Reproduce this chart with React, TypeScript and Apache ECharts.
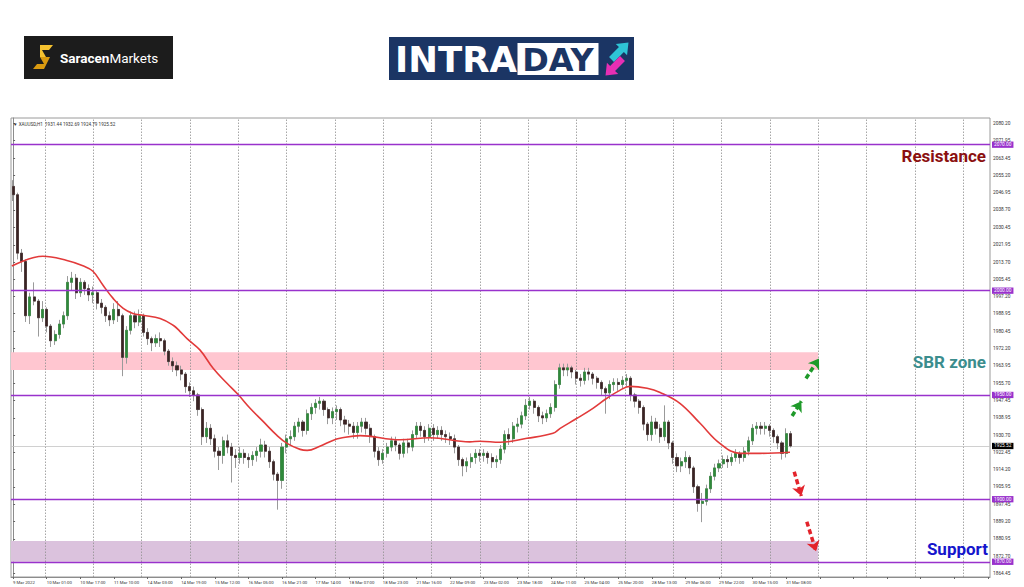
import React, { useEffect, useRef } from "react";
import * as echarts from "echarts";

// ---------- data ----------
const timeLabels = [
  "9 Mar 2022", "10 Mar 01:00", "10 Mar 17:00", "11 Mar 10:00", "14 Mar 03:00", "14 Mar 19:00",
  "15 Mar 12:00", "16 Mar 05:00", "16 Mar 21:00", "17 Mar 14:00", "18 Mar 07:00", "18 Mar 23:00",
  "21 Mar 16:00", "22 Mar 09:00", "23 Mar 02:00", "23 Mar 18:00", "24 Mar 11:00", "25 Mar 04:00",
  "25 Mar 20:00", "28 Mar 13:00", "29 Mar 06:00", "29 Mar 22:00", "30 Mar 15:00", "31 Mar 08:00",
];

const yTicks = [
  2080.2, 2071.95, 2063.45, 2055.2, 2046.95, 2038.7, 2030.45, 2021.95, 2013.7, 2005.45, 1997.2,
  1988.95, 1980.45, 1972.2, 1963.95, 1955.7, 1947.45, 1938.95, 1930.7, 1922.45, 1914.2, 1905.95,
  1897.45, 1889.2, 1880.95, 1872.7, 1864.45,
];

// [open, close, low, high]
const candles: number[][] = [
  [2050, 2046, 2043, 2053], [2046, 2018, 2015, 2047], [2018, 2014, 2009, 2020], [2014, 1988, 1985, 2015],
  [1988, 1997, 1984, 1999], [1997, 1995, 1993, 2004], [1995, 1987, 1978, 1996], [1987, 1991, 1985, 1995],
  [1991, 1983, 1980, 1992], [1983, 1976, 1973, 1984], [1976, 1979, 1974, 1981], [1979, 1984, 1977, 1986],
  [1984, 1988, 1982, 1990], [1988, 2004, 1986, 2007], [2004, 2006, 2000, 2009], [2006, 1999, 1996, 2008],
  [1999, 2004, 1997, 2006], [2004, 2001, 1998, 2005], [2001, 1998, 1995, 2003], [1998, 1999, 1994, 2002],
  [1999, 1994, 1991, 2000], [1994, 1992, 1989, 1996], [1992, 1988, 1985, 1993], [1988, 1986, 1983, 1990],
  [1986, 1991, 1984, 1994], [1991, 1988, 1985, 1995], [1988, 1968, 1959, 1989], [1968, 1981, 1965, 1983],
  [1981, 1988, 1979, 1990], [1988, 1985, 1982, 1990], [1985, 1988, 1983, 1991], [1988, 1980, 1978, 1989],
  [1980, 1977, 1974, 1982], [1977, 1975, 1971, 1978], [1975, 1977, 1973, 1979], [1977, 1976, 1973, 1980],
  [1976, 1971, 1969, 1977], [1971, 1966, 1964, 1972], [1966, 1964, 1961, 1968], [1964, 1962, 1959, 1966],
  [1962, 1960, 1957, 1964], [1960, 1954, 1951, 1961], [1954, 1952, 1949, 1956], [1952, 1950, 1947, 1954],
  [1950, 1943, 1940, 1951], [1943, 1930, 1926, 1944], [1930, 1934, 1927, 1937], [1934, 1929, 1926, 1936],
  [1929, 1923, 1920, 1931], [1923, 1921, 1914, 1925], [1921, 1928, 1917, 1930], [1928, 1925, 1922, 1931],
  [1925, 1921, 1908, 1927], [1921, 1920, 1915, 1924], [1920, 1922, 1917, 1925], [1922, 1920, 1917, 1924],
  [1920, 1919, 1915, 1922], [1919, 1921, 1916, 1923], [1921, 1923, 1918, 1925], [1923, 1926, 1920, 1929],
  [1926, 1923, 1920, 1928], [1923, 1918, 1915, 1925], [1918, 1912, 1909, 1919], [1912, 1909, 1895, 1913],
  [1909, 1925, 1905, 1927], [1925, 1929, 1922, 1931], [1929, 1930, 1926, 1933], [1930, 1935, 1928, 1937],
  [1935, 1937, 1932, 1939], [1937, 1933, 1930, 1938], [1933, 1941, 1931, 1943], [1941, 1944, 1938, 1946],
  [1944, 1946, 1941, 1948], [1946, 1947, 1943, 1949], [1947, 1943, 1940, 1948], [1943, 1939, 1936, 1944],
  [1939, 1942, 1936, 1944], [1942, 1943, 1938, 1945], [1943, 1938, 1935, 1944], [1938, 1936, 1932, 1940],
  [1936, 1935, 1931, 1938], [1935, 1932, 1929, 1937], [1932, 1935, 1929, 1937], [1935, 1937, 1932, 1939],
  [1937, 1934, 1931, 1939], [1934, 1930, 1927, 1936], [1930, 1923, 1920, 1931], [1923, 1919, 1916, 1925],
  [1919, 1922, 1917, 1924], [1922, 1925, 1920, 1927], [1925, 1928, 1923, 1930], [1928, 1926, 1923, 1930],
  [1926, 1922, 1919, 1927], [1922, 1927, 1920, 1929], [1927, 1925, 1922, 1929], [1925, 1931, 1923, 1933],
  [1931, 1935, 1929, 1937], [1935, 1933, 1930, 1937], [1933, 1930, 1927, 1935], [1930, 1934, 1928, 1936],
  [1934, 1931, 1928, 1936], [1931, 1933, 1929, 1935], [1933, 1931, 1928, 1935], [1931, 1930, 1927, 1933],
  [1930, 1929, 1926, 1932], [1929, 1925, 1922, 1931], [1925, 1919, 1916, 1926], [1919, 1916, 1911, 1920],
  [1916, 1918, 1913, 1920], [1918, 1920, 1915, 1922], [1920, 1922, 1917, 1924], [1922, 1921, 1918, 1924],
  [1921, 1922, 1918, 1924], [1922, 1920, 1917, 1923], [1920, 1918, 1915, 1922], [1918, 1919, 1915, 1921],
  [1919, 1924, 1917, 1926], [1924, 1931, 1922, 1933], [1931, 1929, 1926, 1934], [1929, 1935, 1927, 1937],
  [1935, 1936, 1932, 1939], [1936, 1940, 1934, 1942], [1940, 1945, 1938, 1948], [1945, 1947, 1943, 1949],
  [1947, 1944, 1941, 1948], [1944, 1940, 1937, 1945], [1940, 1939, 1936, 1942], [1939, 1941, 1937, 1943],
  [1941, 1944, 1939, 1946], [1944, 1955, 1942, 1957], [1955, 1963, 1953, 1965], [1963, 1962, 1959, 1965],
  [1962, 1963, 1959, 1965], [1963, 1961, 1958, 1964], [1961, 1958, 1955, 1962], [1958, 1957, 1954, 1960],
  [1957, 1961, 1955, 1963], [1961, 1960, 1957, 1963], [1960, 1958, 1955, 1961], [1958, 1956, 1953, 1959],
  [1956, 1953, 1950, 1957], [1953, 1951, 1941, 1954], [1951, 1955, 1948, 1957], [1955, 1956, 1952, 1958],
  [1956, 1955, 1952, 1958], [1955, 1957, 1953, 1959], [1957, 1958, 1954, 1960], [1958, 1950, 1947, 1959],
  [1950, 1947, 1944, 1951], [1947, 1944, 1941, 1948], [1944, 1936, 1933, 1945], [1936, 1931, 1928, 1937],
  [1931, 1937, 1928, 1940], [1937, 1934, 1931, 1939], [1934, 1930, 1927, 1936], [1930, 1937, 1928, 1945],
  [1937, 1927, 1924, 1938], [1927, 1920, 1917, 1928], [1920, 1916, 1913, 1922], [1916, 1918, 1913, 1920],
  [1918, 1920, 1915, 1923], [1920, 1915, 1912, 1921], [1915, 1906, 1903, 1916], [1906, 1898, 1894, 1907],
  [1898, 1899, 1889, 1903], [1899, 1905, 1897, 1907], [1905, 1911, 1903, 1913], [1911, 1915, 1909, 1917],
  [1915, 1917, 1913, 1919], [1917, 1919, 1915, 1921], [1919, 1918, 1915, 1921], [1918, 1920, 1916, 1922],
  [1920, 1922, 1918, 1924], [1922, 1920, 1917, 1923], [1920, 1923, 1918, 1925], [1923, 1928, 1921, 1930],
  [1928, 1934, 1926, 1936], [1934, 1935, 1931, 1937], [1935, 1934, 1931, 1937], [1934, 1935, 1931, 1937],
  [1935, 1933, 1930, 1936], [1933, 1930, 1927, 1934], [1930, 1927, 1924, 1931], [1927, 1922, 1919, 1928],
  [1922, 1931.44, 1920, 1934], [1931.44, 1925.52, 1924.79, 1932.69],
];

// moving average (x in bar units, y in price)
const maX = [
  -0.3, 7.1, 12.8, 16.6, 19.0, 21.4, 23.8, 26.2, 28.5, 30.9, 35.0, 38.1, 39.7, 41.4, 44.5, 47.6, 50.9,
  53.5, 56.4, 59.5, 62.8, 65.2, 68.3, 70.0, 73.0, 76.1, 77.8, 82.6, 92.1, 99.2, 108.7, 111.1, 115.9,
  122.3, 128.5, 130.2, 134.2, 138.0, 141.3, 144.4, 146.8, 150.9, 154.0, 158.7, 163.5, 168.2, 173.0,
  177.8, 184.9,
];
const maY = [
  2011.8, 2016.5, 2014.5, 2012.0, 2009.3, 2002.6, 1996.3, 1991.5, 1989.1, 1988.2, 1986.7, 1983.4, 1980.5,
  1977.0, 1971.5, 1962.8, 1955.6, 1950.3, 1943.6, 1937.3, 1930.6, 1926.8, 1923.9, 1923.4, 1925.4, 1928.2,
  1929.2, 1930.5, 1928.5, 1929.5, 1927.5, 1927.8, 1927.3, 1929.2, 1931.6, 1934.0, 1938.8, 1943.6, 1948.4,
  1952.2, 1954.1, 1953.2, 1951.2, 1946.0, 1936.4, 1926.8, 1922.0, 1922.0, 1922.5,
];

const levels = [2070, 2000, 1950, 1900, 1870];
const lastPrice = 1925.52;
const sbrZone = [1962, 1970.5];
const supportZone = [1870, 1880];
const header = "\u25BC XAUUSD,H1  1931.44 1932.69 1924.79 1925.52";

const arrows = [
  { from: [188.7, 1957.9], to: [191.8, 1967.5], color: "#1f9a2a" },
  { from: [185.4, 1939.9], to: [187.6, 1947.0], color: "#1f9a2a" },
  { from: [185.9, 1913.2], to: [187.6, 1901.5], color: "#e3232b" },
  { from: [188.9, 1889.2], to: [191.1, 1875.0], color: "#e3232b" },
];

// ---------- layout constants ----------
const SLOTS = 233;
const LABEL_EVERY = 8;
const ZONE_END = 191.6;
const GRID_START = 7.6;
const GRID_STEP = 11.5;
const PURPLE = "#9932cc";

export default function App() {
  const ref = useRef<HTMLDivElement>(null);

  useEffect(() => {
    if (!ref.current) return;
    const chart = echarts.init(ref.current, null, { renderer: "svg" });

    const slots = Array.from({ length: SLOTS }, (_, i) => String(i));
    const gridX = Array.from({ length: 20 }, (_, k) => GRID_START + GRID_STEP * k);

    const option: any = {
      animation: false,
      backgroundColor: "#ffffff",
      textStyle: { fontFamily: "Roboto" },
      grid: {
        left: 11, right: 34, top: 118, height: 459,
        show: true, borderColor: "#9a9a9a", borderWidth: 1,
        outerBoundsMode: "none", containLabel: false,
      },
      xAxis: [
        {
          type: "category", data: slots, boundaryGap: true,
          axisLine: { show: true, lineStyle: { color: "#8c8c8c", width: 1 } },
          axisTick: { show: true, interval: LABEL_EVERY - 1, alignWithLabel: true, length: 2, lineStyle: { color: "#666" } },
          axisLabel: {
            interval: LABEL_EVERY - 1,
            formatter: (_v: string, i: number) => timeLabels[i / LABEL_EVERY] ?? "",
            fontSize: 4.3, color: "#333", align: "left", margin: 3,
          },
          splitLine: { show: false },
          minorSplitLine: { show: false },
        },
        {
          type: "value", min: -0.5, max: SLOTS - 0.5, show: false,
          splitLine: { show: false }, axisLine: { show: false }, axisTick: { show: false }, axisLabel: { show: false },
        },
      ],
      yAxis: {
        type: "value", position: "right", min: 1862.7, max: 2082.8, scale: true,
        axisLine: { show: true, lineStyle: { color: "#8c8c8c", width: 1 } },
        axisTick: { show: true, length: 2, customValues: yTicks, lineStyle: { color: "#666" } },
        axisLabel: {
          customValues: yTicks, formatter: (v: number) => v.toFixed(2),
          fontSize: 4.8, color: "#333", margin: 3,
        },
        splitLine: { show: false },
      },
      series: [
        {
          name: "grid", type: "line", xAxisIndex: 1, data: [], silent: true,
          markLine: {
            silent: true, z: 1, symbol: ["none", "none"], animation: false,
            label: { show: false },
            lineStyle: { color: "#8f8f8f", width: 0.8, type: [1.5, 1.5] },
            data: [
              ...gridX.map((v) => ({ xAxis: v })),
              {
                yAxis: lastPrice,
                lineStyle: { color: "#c4c4c4", width: 0.8, type: "solid" },
                label: {
                  show: true, position: "end", distance: 2,
                  formatter: (p: any) => Number(p.value).toFixed(2),
                  backgroundColor: "#000", color: "#fff", fontSize: 4.8,
                  padding: [0.8, 2, 0.5, 2], lineHeight: 5,
                },
              },
            ],
          },
        },
        {
          name: "wick", type: "candlestick", xAxisIndex: 0, yAxisIndex: 0, silent: true, z: 3,
          data: candles.map((c) => [c[0], c[1], c[2], c[3]]),
          barWidth: 2.6,
          itemStyle: { color: "#9a9a9a", color0: "#9a9a9a", borderColor: "#9a9a9a", borderColor0: "#9a9a9a", borderWidth: 1 },
        },
        {
          name: "body", type: "candlestick", xAxisIndex: 0, yAxisIndex: 0, silent: true, z: 4,
          data: candles.map((c) => [c[0], c[1], Math.min(c[0], c[1]), Math.max(c[0], c[1])]),
          barWidth: 2.6,
          itemStyle: { color: "#2f8a3a", color0: "#3a2424", borderColor: "#2f8a3a", borderColor0: "#3a2424", borderWidth: 0.6 },
        },
        {
          name: "MA", type: "line", xAxisIndex: 1, yAxisIndex: 0, silent: true, z: 5,
          data: maX.map((x, i) => [x, maY[i]]),
          smooth: 0.4, symbol: "none", showSymbol: false,
          lineStyle: { color: "#e23a3a", width: 1.6 },
          markArea: {
            silent: true,
            data: [
              [
                { xAxis: -0.5, yAxis: sbrZone[1], itemStyle: { color: "#ffc6d0" } },
                { xAxis: ZONE_END, yAxis: sbrZone[0] },
              ],
              [
                { xAxis: -0.5, yAxis: supportZone[1], itemStyle: { color: "#dbc2dd" } },
                { xAxis: ZONE_END, yAxis: supportZone[0] },
              ],
            ],
          },
        },
        {
          name: "levels", type: "line", xAxisIndex: 1, data: [], silent: true,
          markLine: {
            silent: true, z: 6, symbol: ["none", "none"], animation: false,
            lineStyle: { color: PURPLE, width: 1.4, type: "solid" },
            label: {
              show: true, position: "end", distance: 2,
              formatter: (p: any) => Number(p.value).toFixed(2),
              backgroundColor: PURPLE, color: "#fff", fontSize: 4.8,
              padding: [0.8, 2, 0.5, 2], lineHeight: 5,
            },
            data: levels.map((v) => ({ yAxis: v })),
          },
        },
        {
          name: "arrows", type: "line", xAxisIndex: 1, data: [], silent: true,
          markLine: {
            silent: true, z: 7, symbol: ["none", "arrow"], symbolSize: 10, animation: false,
            label: { show: false },
            data: arrows.map((a) => [
              { coord: a.from, lineStyle: { color: a.color, width: 3.5, type: [5, 3] }, itemStyle: { color: a.color } },
              { coord: a.to, lineStyle: { color: a.color, width: 3.5, type: [5, 3] }, itemStyle: { color: a.color } },
            ]),
          },
        },
      ],
      graphic: [
        {
          type: "text", x: 13, y: 124, z: 100,
          style: { text: header, fontSize: 4.6, fill: "#333", verticalAlign: "middle", fontFamily: "Roboto" },
        },
        {
          type: "text", x: 986, y: 156, z: 100,
          style: { text: "Resistance", textAlign: "right", verticalAlign: "middle", fontSize: 17, fontWeight: "bold", fontFamily: "Roboto", fill: "#8b1010" },
        },
        {
          type: "text", x: 986, y: 362, z: 100,
          style: { text: "SBR zone", textAlign: "right", verticalAlign: "middle", fontSize: 17, fontWeight: "bold", fontFamily: "Roboto", fill: "#3b8d8d" },
        },
        {
          type: "text", x: 988, y: 549, z: 100,
          style: { text: "Support", textAlign: "right", verticalAlign: "middle", fontSize: 17, fontWeight: "bold", fontFamily: "Roboto", fill: "#1515cc" },
        },
        // Saracen logo
        { type: "rect", shape: { x: 24, y: 36, width: 149, height: 43 }, style: { fill: "#1c1c1c" }, z: 100 },
        { type: "polygon", shape: { points: [[40, 45], [53, 45], [49, 50], [42, 50], [46, 57], [40, 57]] }, style: { fill: "#f5c230" }, z: 101 },
        { type: "polygon", shape: { points: [[44, 57], [50, 57], [44, 69], [33, 69], [37, 64], [44, 64], [40, 57]] }, style: { fill: "#d99a10" }, z: 101 },
        {
          type: "text", x: 60, y: 57.5, z: 101,
          style: {
            text: "{b|Saracen}{r|Markets}", verticalAlign: "middle",
            rich: {
              b: { fontSize: 13.5, fontWeight: "bold", fill: "#fff", fontFamily: "Roboto" },
              r: { fontSize: 13.5, fontWeight: "normal", fill: "#fff", fontFamily: "Roboto" },
            },
          },
        },
        // INTRADAY logo
        { type: "rect", shape: { x: 389, y: 37, width: 245, height: 43 }, style: { fill: "#1b3564" }, z: 100 },
        {
          type: "text", x: 395, y: 59, z: 101,
          style: { text: "INTRA", verticalAlign: "middle", fontSize: 35.5, fontWeight: "bold", fontFamily: "DejaVu Sans", fill: "#fff" },
        },
        { type: "rect", shape: { x: 517.5, y: 43, width: 81, height: 32 }, style: { fill: "#fff" }, z: 101 },
        {
          type: "text", x: 558, y: 59.5, z: 102,
          style: { text: "DAY", textAlign: "center", verticalAlign: "middle", fontSize: 32, fontWeight: "bold", fontFamily: "DejaVu Sans", fill: "#1b3564" },
        },
        {
          type: "polygon", x: 620, y: 51, rotation: Math.PI / 4, z: 102,
          shape: { points: [[-12, -3.5], [2, -3.5], [2, -8], [12, 0], [2, 8], [2, 3.5], [-12, 3.5]] },
          style: { fill: "#2ec4d6" },
        },
        {
          type: "polygon", x: 614, y: 67, rotation: (5 * Math.PI) / 4, z: 102,
          shape: { points: [[-12, -3.5], [2, -3.5], [2, -8], [12, 0], [2, 8], [2, 3.5], [-12, 3.5]] },
          style: { fill: "#e62fb4" },
        },
      ],
    };

    chart.setOption(option);
    return () => chart.dispose();
  }, []);

  return (
    <div
      ref={ref}
      style={{ position: "fixed", left: 0, top: 0, width: 1024, height: 587, background: "#fff" }}
    />
  );
}
